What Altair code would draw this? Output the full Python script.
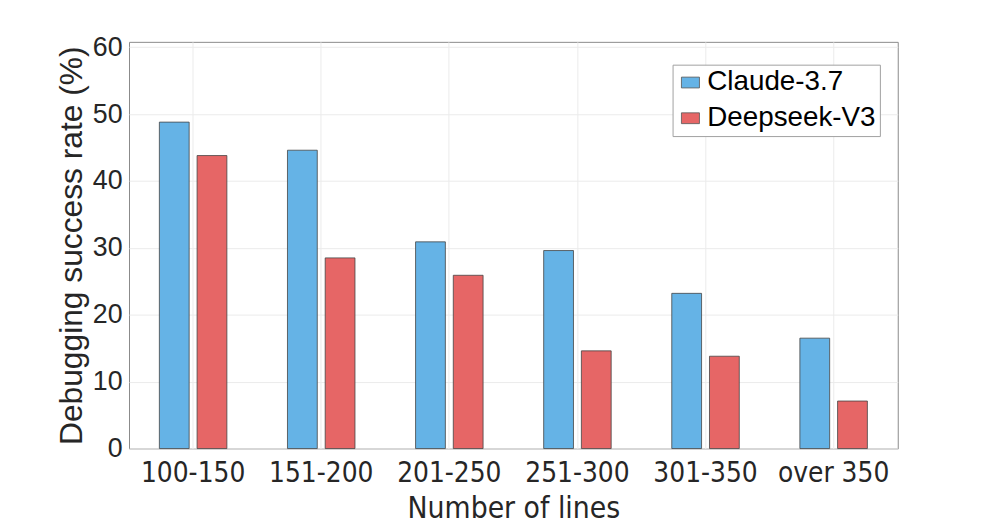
import altair as alt
import pandas as pd

categories = ["100-150", "151-200", "201-250", "251-300", "301-350", "over 350"]
claude = [48.8, 44.6, 30.9, 29.6, 23.2, 16.5]
deepseek = [43.8, 28.5, 25.9, 14.6, 13.8, 7.1]
series = ["Claude-3.7", "Deepseek-V3"]
colors = ["#65B3E6", "#E66666"]

rows = []
for c, a, b in zip(categories, claude, deepseek):
    rows.append({"cat": c, "model": series[0], "val": a})
    rows.append({"cat": c, "model": series[1], "val": b})
df = pd.DataFrame(rows)

narrow = "Liberation Sans Narrow, DejaVu Sans Condensed, Liberation Sans"

bars = alt.Chart(df).mark_bar(stroke="#444444", strokeWidth=0.8).encode(
    x=alt.X("cat:N", sort=categories,
            scale=alt.Scale(paddingInner=0.473, paddingOuter=0.237),
            axis=alt.Axis(title="Number of lines", labelAngle=0, labelFont=narrow,
                          labelFontSize=28, labelColor="#262626", titleFont=narrow,
                          titleFontSize=30, titleFontWeight="normal", titleColor="#262626",
                          titlePadding=7, labelPadding=11,
                          domain=False, ticks=False, grid=True, gridColor="#ebebeb",
                          bandPosition=0.5)),
    xOffset=alt.XOffset("model:N", sort=series,
                        scale=alt.Scale(paddingInner=0.21, paddingOuter=0)),
    y=alt.Y("val:Q", scale=alt.Scale(domain=[0, 60.8], nice=False),
            axis=alt.Axis(title="Debugging success rate (%)", values=[0, 10, 20, 30, 40, 50, 60],
                          labelFont="Liberation Sans", labelFontSize=27, labelColor="#262626",
                          titleFont="Liberation Sans", titleFontSize=32, titleFontWeight="normal",
                          titleColor="#262626", titlePadding=4, labelPadding=7,
                          domain=False, ticks=False, grid=True, gridColor="#ebebeb")),
    color=alt.Color("model:N", sort=series,
                    scale=alt.Scale(domain=series, range=colors),
                    legend=alt.Legend(title=None, orient="none", legendX=548, legendY=23,
                                      labelFont="Liberation Sans", labelFontSize=28,
                                      labelColor="black", symbolType="M-1,-0.6H1V0.6H-1Z",
                                      symbolSize=330, symbolStrokeColor="#555555",
                                      symbolStrokeWidth=0.8, rowPadding=8, labelOffset=3,
                                      strokeColor="#a0a0a0", padding=4, fillColor="white",
                                      labelLimit=300))
)

chart = bars.properties(
    width=775, height=410,
    autosize=alt.AutoSizeParams(type="none"),
    padding={"left": 122, "top": 32, "right": 92, "bottom": 79},
).configure_view(stroke="#8a8a8a", strokeWidth=1)

chart.save("out.html", embed_options={"renderer": "svg", "actions": False})
